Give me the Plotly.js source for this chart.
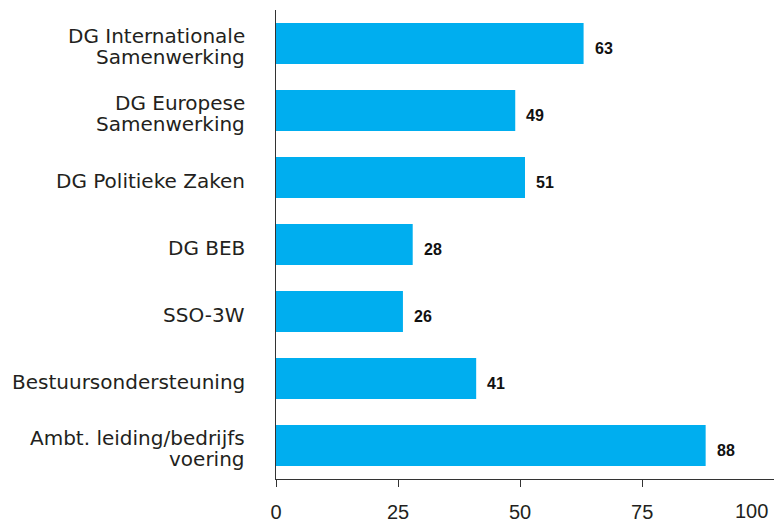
<!DOCTYPE html>
<html>
<head>
<meta charset="utf-8">
<script src="https://cdn.plot.ly/plotly-3.0.1.min.js"></script>
<style>html,body{margin:0;padding:0;background:#fff;}#chart{width:774px;height:519px;}</style>
</head>
<body>
<div id="chart"></div>
<script>
const categories = [
  "DG Internationale<br>Samenwerking",
  "DG Europese<br>Samenwerking",
  "DG Politieke Zaken",
  "DG BEB",
  "SSO-3W",
  "Bestuursondersteuning",
  "Ambt. leiding/bedrijfs<br>voering"
];
const values = [63, 49, 51, 28, 26, 41, 88];
const xTicks = [0, 25, 50, 75, 100];

const labelFont = 'DejaVu Sans, Verdana, sans-serif';
const numFont = 'Liberation Sans, Arial, Helvetica, sans-serif';
const textColor = '#231F20';

const trace = {
  type: 'bar',
  orientation: 'h',
  y: categories,
  x: values,
  marker: {color: '#00AEEF'},
  hoverinfo: 'none'
};

const annotations = [];
// value labels
values.forEach((v, i) => {
  annotations.push({
    x: v, y: categories[i], xref: 'x', yref: 'y',
    text: String(v), showarrow: false,
    xanchor: 'left', yanchor: 'middle', xshift: 9, yshift: -5,
    font: {family: numFont, size: 16, color: '#111', weight: 'bold'}
  });
});
// category labels, line by line (tighter line spacing than Plotly's default)
categories.forEach((c) => {
  const lines = c.split('<br>');
  const n = lines.length;
  lines.forEach((ln, j) => {
    annotations.push({
      x: 0, xref: 'paper', y: c, yref: 'y',
      text: ln, showarrow: false,
      xanchor: 'right', yanchor: 'middle', xshift: -29,
      yshift: -((j - (n - 1) / 2) * 21.5) - 3,
      font: {family: labelFont, size: 20, color: textColor}
    });
  });
});
// last x tick label (sits against the right edge, no tick mark)
annotations.push({
  x: xTicks[xTicks.length - 1], xref: 'x', y: 0, yref: 'paper',
  text: String(xTicks[xTicks.length - 1]), showarrow: false,
  xanchor: 'right', yanchor: 'middle', xshift: 6, yshift: -32,
  font: {family: numFont, size: 20, color: textColor}
});

const layout = {
  width: 774, height: 519,
  margin: {l: 276, r: 0, t: 10, b: 40},
  paper_bgcolor: '#fff', plot_bgcolor: '#fff',
  font: {family: numFont, size: 20, color: textColor},
  showlegend: false,
  bargap: 0.39,
  xaxis: {
    range: [0, 102], tickvals: xTicks.slice(0, -1), ticktext: xTicks.slice(0, -1).map(String),
    showgrid: false, zeroline: false, showline: true, linecolor: '#333', linewidth: 1,
    ticks: 'outside', ticklen: 7, tickcolor: '#333', tickwidth: 1,
    ticklabelstandoff: 8, tickfont: {family: numFont, size: 20, color: textColor}
  },
  yaxis: {
    autorange: 'reversed', showgrid: false, zeroline: false,
    showline: true, linecolor: '#333', linewidth: 1, ticks: '',
    showticklabels: false
  },
  annotations: annotations
};

Plotly.newPlot('chart', [trace], layout, {displayModeBar: false, staticPlot: true});
</script>
</body>
</html>
